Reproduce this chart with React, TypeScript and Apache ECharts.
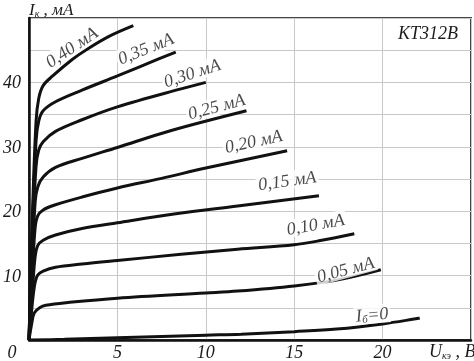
import React, { useEffect, useRef } from "react";
import * as echarts from "echarts";

// Output characteristics of transistor КТ312В: Ic (mA) vs Uce (V)
const curve040: number[][] = [[0,0],[0.2,20],[0.4,34],[0.55,37.5],[0.8,39.5],[1.34,41],[2.46,43.6],[3.2,45.0],[4.5,47.1],[5.9,48.8]];
const curve035: number[][] = [[0,0],[0.2,18],[0.4,31],[0.55,34],[0.8,35.6],[1.5,37],[3,38.8],[5,41],[7.3,43.6],[8.3,44.7]];
const curve030: number[][] = [[0,0],[0.2,16],[0.4,27],[0.55,29.5],[0.8,30.8],[1.5,32.4],[3,34.2],[5,36.2],[8.6,39],[10,40]];
const curve025: number[][] = [[0,0],[0.2,13],[0.35,21.5],[0.5,23.8],[0.8,25.3],[1.5,26.8],[3,28.2],[5,29.9],[8,32.5],[12.3,35.6]];
const curve020: number[][] = [[0,0],[0.2,11],[0.35,17.5],[0.5,19.3],[0.8,20.2],[1.5,21.0],[3,22.2],[5,23.6],[7.5,25.1],[10,26.7],[14.6,29.4]];
const curve015: number[][] = [[0,0],[0.2,8],[0.35,13],[0.5,14.7],[0.8,15.5],[1.5,16.3],[3,17.3],[5,18.2],[8.3,19.6],[11.8,20.8],[16.4,22.4]];
const curve010: number[][] = [[0,0],[0.2,6],[0.35,9],[0.5,10.1],[0.8,10.7],[1.5,11.3],[3,11.8],[5,12.35],[8.6,13.3],[11.8,14.1],[15,14.8],[16.4,15.4],[18.4,16.5]];
const curve005: number[][] = [[0,0],[0.15,2.5],[0.3,4.2],[0.6,5.0],[0.95,5.4],[2.3,5.85],[5,6.5],[10,7.3],[11.8,7.6],[15,8.4],[17.4,9.3],[19.9,10.9]];
const curve000: number[][] = [[0,0],[2,0.1],[5,0.35],[10,0.75],[12,0.9],[15,1.3],[17.4,1.7],[20,2.5],[22.1,3.4]];

const curves = [curve040, curve035, curve030, curve025, curve020, curve015, curve010, curve005, curve000];

const labelTexts = ["0,40 мА", "0,35 мА", "0,30 мА", "0,25 мА", "0,20 мА", "0,15 мА", "0,10 мА", "0,05 мА", "{i|I}{sub|б}{i|=0}"];
const labelX = [2.4, 6.6, 9.22, 10.6, 12.7, 14.6, 16.2, 17.9, 19.4];
const labelY = [45.5, 45.3, 41.5, 36.3, 30.9, 24.8, 18.0, 11.0, 4.0];
const labelAngle = [34, 22, 18, 15, 12, 8, 10, 15, 5];

const xTickLabels = [5, 10, 15, 20];
const yTickLabels = [10, 20, 30, 40];

const FONT = "Liberation Serif";
const INK = "#1a1a1a";

export default function App() {
  const ref = useRef<HTMLDivElement>(null);
  useEffect(() => {
    document.body.style.margin = "0";
    const chart = echarts.init(ref.current!, null, { renderer: "svg" });
    const lineSeries = curves.map((c, i) => ({
      type: "line",
      name: "c" + i,
      data: c,
      showSymbol: false,
      smooth: 0.35,
      lineStyle: { color: "#111", width: 3 },
      z: 3,
    }));
    const labelSeries = {
      type: "scatter",
      symbolSize: 0,
      z: 4,
      data: labelTexts.map((t, i) => ({
        value: [labelX[i], labelY[i]],
        label: {
          show: true,
          position: "inside",
          rotate: labelAngle[i],
          formatter: t,
          fontFamily: FONT,
          fontStyle: "italic",
          fontSize: 18,
          color: INK,
          backgroundColor: "#fff",
          padding: [0, 2],
          rich: {
            i: { fontFamily: FONT, fontStyle: "italic", fontSize: 18, color: INK },
            sub: { fontFamily: FONT, fontStyle: "italic", fontSize: 11, color: INK, padding: [8, 0, 0, 0] },
          },
        },
      })),
    };
    chart.setOption({
      animation: false,
      grid: {
        left: 26, right: 2, top: 18, bottom: 20,
        show: true, borderColor: "#444", borderWidth: 2,
      },
      xAxis: {
        type: "value", min: 0, max: 25, interval: 5,
        axisLine: { show: true, onZero: false, lineStyle: { color: "#111", width: 2.5 } },
        axisTick: { show: false },
        splitLine: { show: true, lineStyle: { color: "#c8c8c8", width: 1 } },
        axisLabel: {
          margin: 3,
          fontFamily: FONT, fontStyle: "italic", fontSize: 18, color: INK,
          formatter: (v: number) => (xTickLabels.indexOf(v) >= 0 ? String(v) : ""),
        },
      },
      yAxis: {
        type: "value", min: 0, max: 50, interval: 5,
        axisLine: { show: true, onZero: false, lineStyle: { color: "#111", width: 2.5 } },
        axisTick: { show: false },
        splitLine: { show: true, lineStyle: { color: "#c8c8c8", width: 1 } },
        axisLabel: {
          margin: 8,
          fontFamily: FONT, fontStyle: "italic", fontSize: 18, color: INK,
          formatter: (v: number) => (yTickLabels.indexOf(v) >= 0 ? String(v) : ""),
        },
      },
      graphic: [
        {
          type: "text", x: 12, y: 352,
          style: { text: "0", font: `italic 18px "${FONT}"`, fill: INK, align: "center", verticalAlign: "middle" },
        },
        {
          type: "text", x: 29, y: 9,
          style: {
            text: "{i|I}{sub|к}{i| , мА}",
            verticalAlign: "middle",
            rich: {
              i: { fontFamily: FONT, fontStyle: "italic", fontSize: 17, fill: INK },
              sub: { fontFamily: FONT, fontStyle: "italic", fontSize: 10, fill: INK, padding: [8, 0, 0, 0] },
            },
          },
        },
        {
          type: "text", x: 429, y: 351,
          style: {
            text: "{i|U}{sub|кэ}{i| , В}",
            verticalAlign: "middle",
            rich: {
              i: { fontFamily: FONT, fontStyle: "italic", fontSize: 18, fill: INK },
              sub: { fontFamily: FONT, fontStyle: "italic", fontSize: 10, fill: INK, padding: [8, 0, 0, 0] },
            },
          },
        },
        {
          type: "text", x: 428, y: 33,
          style: { text: "КТ312В", font: `italic 18px "${FONT}"`, fill: INK, align: "center", verticalAlign: "middle" },
        },
      ],
      series: [...lineSeries, labelSeries],
    });
    return () => chart.dispose();
  }, []);
  return <div ref={ref} style={{ position: "fixed", left: 0, top: 0, width: 474, height: 361 }} />;
}
